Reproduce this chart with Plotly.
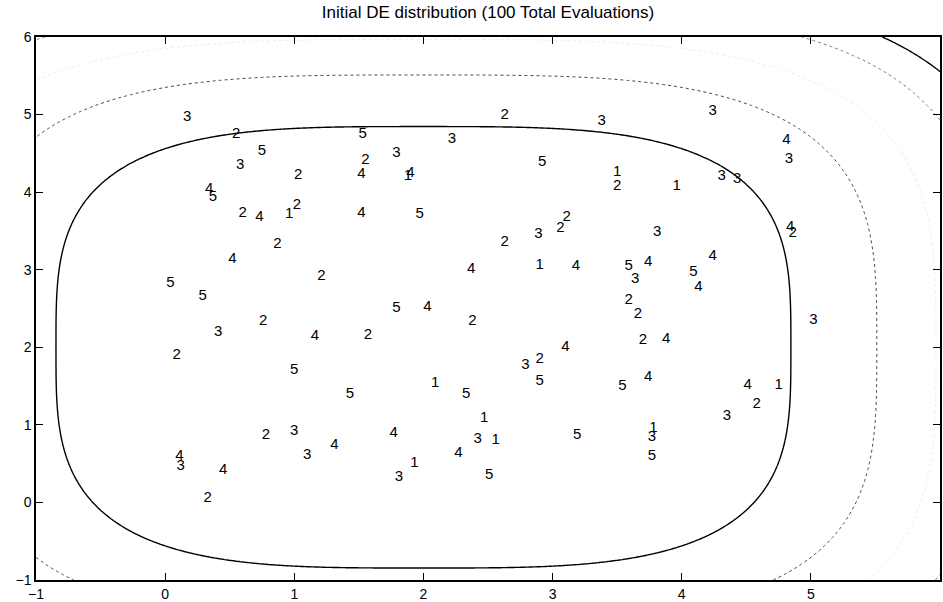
import numpy as np
import plotly.graph_objects as go

# ---- data: evaluation points (x, y) and their labels ----
pt_x = [0.17, 0.55, 1.53, 2.22, 0.75, 0.58, 1.55, 1.79, 1.03, 1.52,
        1.90, 1.88, 0.34, 0.37, 0.60, 0.73, 0.96, 1.02, 1.52, 1.97,
        0.87, 2.63, 3.38, 4.24, 4.81, 4.83, 2.92, 3.50, 3.50, 3.96,
        4.31, 4.43, 3.11, 3.06, 2.89, 2.63, 3.81, 4.84, 4.86, 4.24,
        0.52, 0.04, 0.29, 1.21, 2.37, 1.79, 2.03, 2.38, 0.76, 0.41,
        1.16, 1.57, 0.09, 1.00, 2.09, 1.43, 2.33, 2.90, 3.18, 3.59,
        3.74, 3.64, 4.09, 4.13, 3.59, 3.66, 5.02, 3.70, 3.88, 3.10,
        2.79, 2.90, 2.90, 3.74, 3.54, 4.51, 4.75, 4.58, 4.35, 2.47,
        3.78, 3.77, 3.77, 3.19, 2.42, 2.56, 2.51, 0.78, 1.00, 1.10,
        1.31, 0.11, 0.12, 0.45, 0.33, 1.77, 1.81, 1.93, 2.27]
pt_y = [4.97, 4.75, 4.74, 4.68, 4.53, 4.35, 4.41, 4.50, 4.22, 4.23,
        4.25, 4.20, 4.04, 3.93, 3.73, 3.68, 3.71, 3.83, 3.73, 3.71,
        3.33, 4.99, 4.92, 5.04, 4.67, 4.43, 4.38, 4.26, 4.07, 4.07,
        4.20, 4.17, 3.68, 3.54, 3.46, 3.35, 3.48, 3.55, 3.47, 3.18,
        3.13, 2.82, 2.66, 2.91, 3.01, 2.50, 2.52, 2.33, 2.33, 2.19,
        2.14, 2.16, 1.90, 1.71, 1.54, 1.39, 1.40, 3.06, 3.05, 3.05,
        3.10, 2.88, 2.97, 2.78, 2.61, 2.42, 2.35, 2.09, 2.11, 2.00,
        1.77, 1.85, 1.56, 1.62, 1.50, 1.51, 1.51, 1.27, 1.11, 1.08,
        0.96, 0.84, 0.59, 0.86, 0.82, 0.80, 0.35, 0.86, 0.92, 0.61,
        0.74, 0.59, 0.47, 0.41, 0.06, 0.89, 0.32, 0.50, 0.64]
pt_label = ["3", "2", "5", "3", "5", "3", "2", "3", "2", "4",
            "4", "1", "4", "5", "2", "4", "1", "2", "4", "5",
            "2", "2", "3", "3", "4", "3", "5", "1", "2", "1",
            "3", "3", "2", "2", "3", "2", "3", "4", "2", "4",
            "4", "5", "5", "2", "4", "5", "4", "2", "2", "3",
            "4", "2", "2", "5", "1", "5", "5", "1", "4", "5",
            "4", "3", "5", "4", "2", "2", "3", "2", "4", "4",
            "3", "2", "5", "4", "5", "4", "1", "2", "3", "1",
            "1", "3", "5", "5", "3", "1", "5", "2", "3", "3",
            "4", "4", "3", "4", "2", "4", "3", "1", "4"]

# ---- background objective contours ----
center = (2.0, 2.0)
shape_exp = 3.4
levels = [35, 71.5, 108.5, 150, 186]
tick_vals = [-1, 0, 1, 2, 3, 4, 5, 6]

gx = np.linspace(-1, 6, 351)
gy = np.linspace(-1, 6, 351)
GX, GY = np.meshgrid(gx, gy)
Z = np.abs(GX - center[0]) ** shape_exp + np.abs(GY - center[1]) ** shape_exp

styles = [
    dict(color="black", width=1.4, dash="solid"),
    dict(color="#444444", width=1.0, dash="dot"),
    dict(color="#ececec", width=1.0, dash="dot"),
    dict(color="#777777", width=1.0, dash="dot"),
    dict(color="black", width=1.4, dash="solid"),
]

fig = go.Figure()
for lev, st in zip(levels, styles):
    fig.add_trace(go.Contour(
        x=gx, y=gy, z=Z, autocontour=False,
        contours=dict(coloring="none", start=lev, end=lev, size=1, showlabels=False),
        line=st, showscale=False, hoverinfo="skip",
    ))

fig.add_trace(go.Scatter(
    x=pt_x, y=pt_y, mode="text", text=pt_label,
    textposition="middle center",
    textfont=dict(family="Liberation Sans, Arial, sans-serif", size=15, color="black"),
    hoverinfo="skip", showlegend=False,
))

axis_common = dict(
    range=[-1, 6], tickvals=tick_vals, showgrid=False, zeroline=False,
    showline=True, linecolor="black", linewidth=1.5, mirror="ticks",
    ticks="inside", ticklen=7, tickwidth=1.3, tickcolor="black",
    automargin=False,
    tickfont=dict(family="Liberation Sans, Arial, sans-serif", size=14, color="black"),
)

fig.update_layout(
    width=943, height=602,
    margin=dict(l=36, r=3, t=37, b=22, autoexpand=False),
    paper_bgcolor="white", plot_bgcolor="white",
    showlegend=False,
    title=dict(text="Initial DE distribution (100 Total Evaluations)",
               x=0.5175, xanchor="center", y=0.98, yanchor="middle",
               font=dict(family="Liberation Sans, Arial, sans-serif", size=17, color="black")),
    xaxis=axis_common,
    yaxis=axis_common,
)

fig.write_html(
    "out.html",
    config={"displayModeBar": False},
    post_script="document.body.style.margin='0px';document.body.style.overflow='hidden';",
)
